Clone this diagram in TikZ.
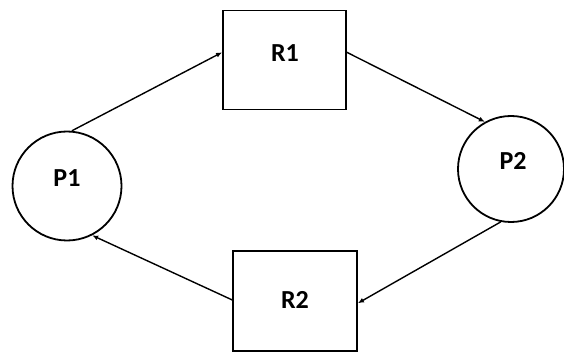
\documentclass[tikz,border=0pt]{standalone}
\usepackage{fontspec}
\setmainfont{Carlito}
\usetikzlibrary{arrows.meta}
\begin{document}
\begin{tikzpicture}[x=1pt,y=-1pt,
  proc/.style={draw, circle, line width=1.8pt, inner sep=0pt},
  res/.style={draw, rectangle, line width=1.8pt, inner sep=0pt},
  lbl/.style={font=\fontsize{26}{26}\selectfont\bfseries},
  conn/.style={line width=1.4pt, -{Latex[length=6pt,width=5pt]}}]
\useasboundingbox (0,0) rectangle (564,355);
\node[proc, minimum size=109pt] (P1) at (67,186) {};
\node[proc, minimum size=106pt] (P2) at (511,169) {};
\node[res, minimum width=123pt, minimum height=99pt] (R1) at (284.5,60) {};
\node[res, minimum width=124pt, minimum height=100pt] (R2) at (295,301) {};
\node[lbl] (tP1) at (67,178) {P1};
\node[lbl] (tP2) at (513,161) {P2};
\node[lbl] (tR1) at (285,53) {R1};
\node[lbl] (tR2) at (295,300) {R2};
\draw[conn] (P1.85) -- (R1.173);
\draw[conn] (R1.7) -- (P2.119);
\draw[conn] (P2.259) -- (R2.358);
\draw[conn] (R2.179) -- (P1.297);
\end{tikzpicture}
\end{document}
